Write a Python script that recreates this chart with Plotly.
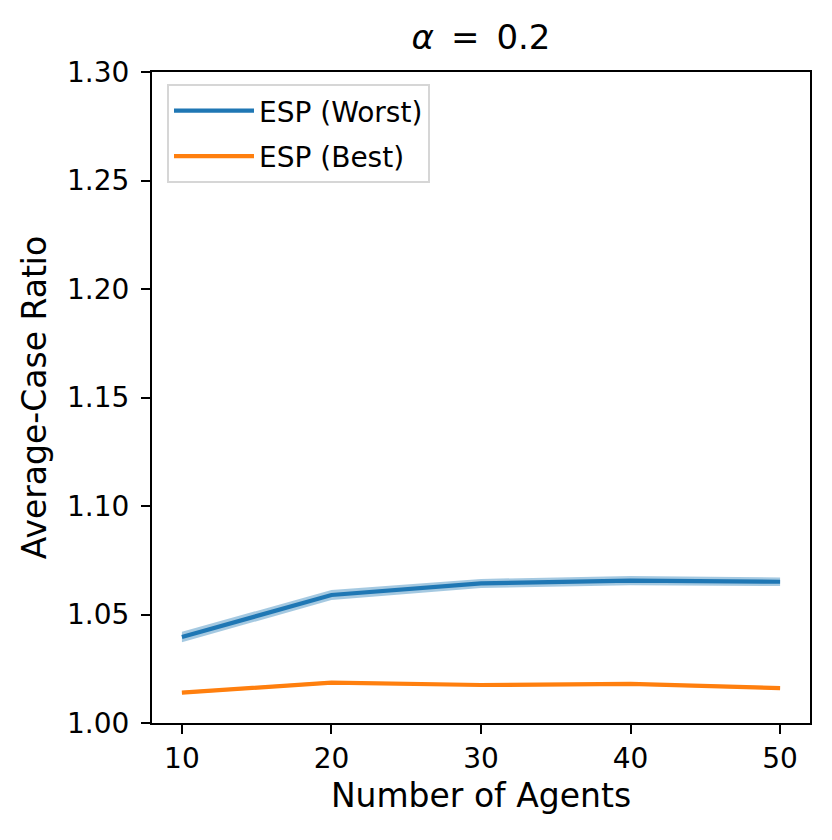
import plotly.graph_objects as go

agents = [10, 20, 30, 40, 50]
worst_mean = [1.0396, 1.0590, 1.0643, 1.0656, 1.0651]
worst_err = [0.0024, 0.0023, 0.0021, 0.0021, 0.0020]
best_mean = [1.0140, 1.0186, 1.0175, 1.0180, 1.0161]
best_err = [0.0007, 0.0007, 0.0006, 0.0007, 0.0007]

FONT = "DejaVu Sans"

fig = go.Figure()

def band(mean, err, fill):
    upper = [m + e for m, e in zip(mean, err)]
    lower = [m - e for m, e in zip(mean, err)]
    fig.add_trace(go.Scatter(x=agents + agents[::-1], y=upper + lower[::-1],
                             fill="toself", fillcolor=fill,
                             line=dict(width=0), mode="lines",
                             showlegend=False, hoverinfo="skip"))

band(worst_mean, worst_err, "rgba(31,119,180,0.4)")
band(best_mean, best_err, "rgba(255,127,14,0.4)")

fig.add_trace(go.Scatter(x=agents, y=worst_mean, mode="lines", name="ESP (Worst)",
                         legendgroup="w", line=dict(color="#1f77b4", width=4.2)))
fig.add_trace(go.Scatter(x=agents, y=best_mean, mode="lines", name="ESP (Best)",
                         legendgroup="b", line=dict(color="#ff7f0e", width=4.2)))

axis_common = dict(showline=True, linecolor="black", linewidth=2.2, mirror=True,
                   ticks="outside", ticklen=9, tickwidth=2.2, tickcolor="black",
                   showgrid=False, zeroline=False,
                   tickfont=dict(family=FONT, size=28, color="black"))

# page is rendered with an 8px body margin; compensate
W, H = 824, 832
fig.update_layout(
    width=W, height=H,
    margin=dict(l=144, r=22, t=64, b=117),
    plot_bgcolor="white", paper_bgcolor="white",
    font=dict(family=FONT, color="black"),
    title=dict(text="<i>α</i>\u2002=\u20020.2", x=0.5, xanchor="center", xref="paper",
               y=1 - 29 / H, yanchor="middle",
               font=dict(family=FONT, size=34, color="black")),
    xaxis=dict(range=[8, 52], tickvals=[10, 20, 30, 40, 50],
               title=dict(text="Number of Agents", font=dict(family=FONT, size=33), standoff=10),
               **axis_common),
    yaxis=dict(range=[1.0, 1.3], tickvals=[1.00, 1.05, 1.10, 1.15, 1.20, 1.25, 1.30],
               tickformat=".2f", ticklabelstandoff=6,
               title=dict(text="Average-Case Ratio", font=dict(family=FONT, size=33), standoff=10),
               **axis_common),
    legend=dict(x=0.0228, y=0.9816, xanchor="left", yanchor="top",
                bgcolor="rgba(255,255,255,0.8)", bordercolor="#d6d6d6", borderwidth=2,
                font=dict(family=FONT, size=28, color="black"),
                tracegroupgap=6, itemwidth=80),
    showlegend=True,
)

fig.write_html("out.html")
